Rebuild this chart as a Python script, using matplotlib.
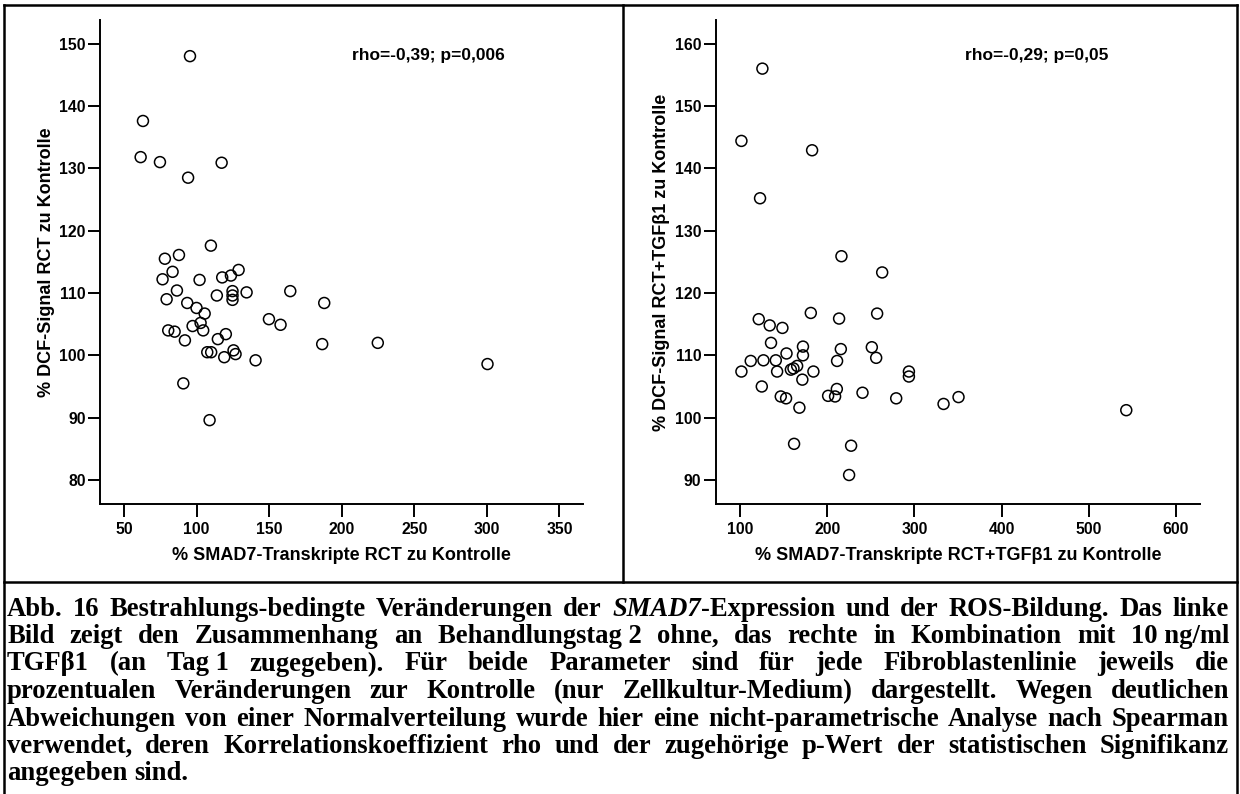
import matplotlib
matplotlib.use('Agg')
import matplotlib.pyplot as plt
from matplotlib.lines import Line2D

# ---------------- data ----------------
left_x = [95.5, 63.1, 61.5, 74.8, 94.2, 117.3, 109.9,
          78.2, 87.9, 83.5, 76.6, 102.1, 117.7, 123.7, 129.0, 86.5, 79.4, 93.6, 100.0, 105.6, 114.0,
          124.8, 124.8, 124.8, 134.5, 164.6, 188.0, 149.9, 157.9, 80.5, 84.9, 97.3, 102.8, 104.6,
          92.0, 114.7, 120.2, 107.4, 110.1, 119.1, 125.5, 126.9, 140.7, 186.6, 224.9, 90.9, 109.0, 300.5]
left_y = [148.0, 137.6, 131.8, 131.0, 128.5, 130.9, 117.6,
          115.5, 116.1, 113.4, 112.2, 112.1, 112.5, 112.8, 113.7, 110.4, 109.0, 108.4, 107.6, 106.7, 109.6,
          110.3, 109.6, 108.9, 110.1, 110.3, 108.4, 105.8, 104.9, 104.0, 103.8, 104.7, 105.2, 104.0,
          102.4, 102.6, 103.4, 100.5, 100.5, 99.7, 100.8, 100.2, 99.2, 101.8, 102.0, 95.5, 89.6, 98.6]

right_x = [125.3, 101.2, 182.4, 122.6,
           216.1, 262.9, 121.1, 133.7, 148.3, 180.9, 213.4, 257.1,
           135.2, 171.9, 215.4, 251.0, 256.0, 153.0, 171.9,
           111.9, 126.5, 140.7, 211.1,
           101.2, 142.2, 158.0, 161.0, 165.2, 183.9, 171.2, 293.6, 293.6,
           124.6, 146.4, 152.5, 167.8, 200.8, 208.8, 210.8, 240.3, 279.0,
           161.7, 227.2, 224.9, 333.4, 350.6, 543.3]
right_y = [156.0, 144.4, 142.9, 135.2,
           125.9, 123.3, 115.8, 114.8, 114.4, 116.8, 115.9, 116.7,
           112.0, 111.4, 111.0, 111.3, 109.6, 110.3, 110.0,
           109.1, 109.2, 109.2, 109.1,
           107.4, 107.4, 107.7, 107.9, 108.3, 107.4, 106.1, 107.4, 106.6,
           105.0, 103.4, 103.1, 101.6, 103.5, 103.4, 104.6, 104.0, 103.1,
           95.8, 95.5, 90.8, 102.2, 103.3, 101.2]

left_xticks = [50, 100, 150, 200, 250, 300, 350]
left_yticks = [80, 90, 100, 110, 120, 130, 140, 150]
right_xticks = [100, 200, 300, 400, 500, 600]
right_yticks = [90, 100, 110, 120, 130, 140, 150, 160]

left_xlabel = "% SMAD7-Transkripte RCT zu Kontrolle"
left_ylabel = "% DCF-Signal RCT zu Kontrolle"
right_xlabel = "% SMAD7-Transkripte RCT+TGFβ1 zu Kontrolle"
right_ylabel = "% DCF-Signal RCT+TGFβ1 zu Kontrolle"
left_stat = "rho=-0,39; p=0,006"
right_stat = "rho=-0,29; p=0,05"

caption_lines = [
    [[("Abb.", "normal")], [("16", "normal")], [("Bestrahlungs-bedingte", "normal")],
     [("Veränderungen", "normal")], [("der", "normal")],
     [("SMAD7", "italic"), ("-Expression", "normal")], [("und", "normal")], [("der", "normal")],
     [("ROS-Bildung.", "normal")], [("Das", "normal")], [("linke", "normal")]],
    "Bild|zeigt|den|Zusammenhang|an|Behandlungstag 2|ohne,|das|rechte|in|Kombination|mit|10 ng/ml",
    "TGFβ1|(an|Tag 1|zugegeben).|Für|beide|Parameter|sind|für|jede|Fibroblastenlinie|jeweils|die",
    "prozentualen|Veränderungen|zur|Kontrolle|(nur|Zellkultur-Medium)|dargestellt.|Wegen|deutlichen",
    "Abweichungen|von|einer|Normalverteilung|wurde|hier|eine|nicht-parametrische|Analyse|nach|Spearman",
    "verwendet,|deren|Korrelationskoeffizient|rho|und|der|zugehörige|p-Wert|der|statistischen|Signifikanz",
    "angegeben|sind.",
]

# ---------------- figure ----------------
W, H = 1240, 794
fig = plt.figure(figsize=(W / 100, H / 100), dpi=100)
plt.rcParams['font.family'] = ['Liberation Sans', 'DejaVu Sans']

def fx(px):
    return px / W

def fy(py):
    return 1 - py / H

def make_axes(x0, x1, y0, y1):
    return fig.add_axes([fx(x0), fy(y1), fx(x1) - fx(x0), fy(y0) - fy(y1)])

axL = make_axes(100.3, 583, 20, 504.3)
axR = make_axes(716, 1200, 20, 504.3)

tick_fs = 11.3
label_fs = 13
for ax, xs, ys, xt, yt, xl, yl, xlab, ylab, stat, sx in [
        (axL, left_x, left_y, left_xticks, left_yticks, (33.7, 366.3), (76.1, 153.8),
         left_xlabel, left_ylabel, left_stat, 0.521),
        (axR, right_x, right_y, right_xticks, right_yticks, (72, 628), (86.1, 163.8),
         right_xlabel, right_ylabel, right_stat, 0.514)]:
    ax.scatter(xs, ys, s=62, facecolors='none', edgecolors='black', linewidths=1.1, zorder=3)
    ax.set_xlim(*xl)
    ax.set_ylim(*yl)
    ax.set_xticks(xt)
    ax.set_yticks(yt)
    for sp in ['top', 'right']:
        ax.spines[sp].set_visible(False)
    for sp in ['left', 'bottom']:
        ax.spines[sp].set_linewidth(1.4)
    ax.tick_params(axis='both', direction='out', length=9, width=1.4, labelsize=tick_fs)
    ax.tick_params(axis='y', pad=1.5)
    ax.tick_params(axis='x', pad=4)
    for lab in ax.get_xticklabels() + ax.get_yticklabels():
        lab.set_fontweight('bold')
    ax.set_xlabel(xlab, fontsize=label_fs, fontweight='bold')
    ax.set_ylabel(ylab, fontsize=label_fs, fontweight='bold')
    ax.xaxis.set_label_coords(0.5, -0.105)
    ax.xaxis.label.set_va('center')
    ax.yaxis.set_label_coords(-0.112, 0.5)
    ax.yaxis.label.set_va('center')
    ax.text(sx, 0.926, stat, transform=ax.transAxes, ha='left', va='center',
            fontsize=12.5, fontweight='bold')

# frame lines
lw = 1.8
def hline(y, x0, x1):
    fig.add_artist(Line2D([fx(x0), fx(x1)], [fy(y), fy(y)], color='black', lw=lw,
                          transform=fig.transFigure))
def vline(x, y0, y1):
    fig.add_artist(Line2D([fx(x), fx(x)], [fy(y0), fy(y1)], color='black', lw=lw,
                          transform=fig.transFigure))

hline(5, 4, 1237)
hline(582, 4, 1237)
vline(4, 5, 794)
vline(1237, 5, 794)
vline(623, 5, 582)

# caption, justified
fig.canvas.draw()
renderer = fig.canvas.get_renderer()
serif = ['Liberation Serif', 'DejaVu Serif']

def seg_width(s, style, size):
    t = fig.text(0, 0, s, fontfamily=serif, fontweight='bold', fontstyle=style, fontsize=size)
    w = t.get_window_extent(renderer).width
    t.remove()
    return w

def parse(line):
    if isinstance(line, str):
        return [[(w, "normal")] for w in line.split("|")]
    return line

lines = [parse(l) for l in caption_lines]

base = 16.0
space0 = seg_width("a a", "normal", base) - seg_width("aa", "normal", base)
ref = lines[4]
nat = sum(sum(seg_width(s, st, base) for s, st in w) for w in ref) + space0 * (len(ref) - 1)
x_left, x_right = 7, 1229
cap_fs = base * 1195 / nat

y0 = 606
pitch = 27.5
for i, words in enumerate(lines):
    widths = [[seg_width(s, st, cap_fs) for s, st in w] for w in words]
    total = sum(sum(ws) for ws in widths)
    py = y0 + i * pitch
    if i == len(lines) - 1:
        gap = space0 * cap_fs / base
    else:
        gap = (x_right - x_left - total) / (len(words) - 1)
    x = x_left
    for w, ws in zip(words, widths):
        for (s, st), sw in zip(w, ws):
            fig.text(fx(x), fy(py), s, fontfamily=serif, fontweight='bold', fontstyle=st,
                     fontsize=cap_fs, ha='left', va='center_baseline')
            x += sw
        x += gap

fig.savefig('out.png', dpi=100)
